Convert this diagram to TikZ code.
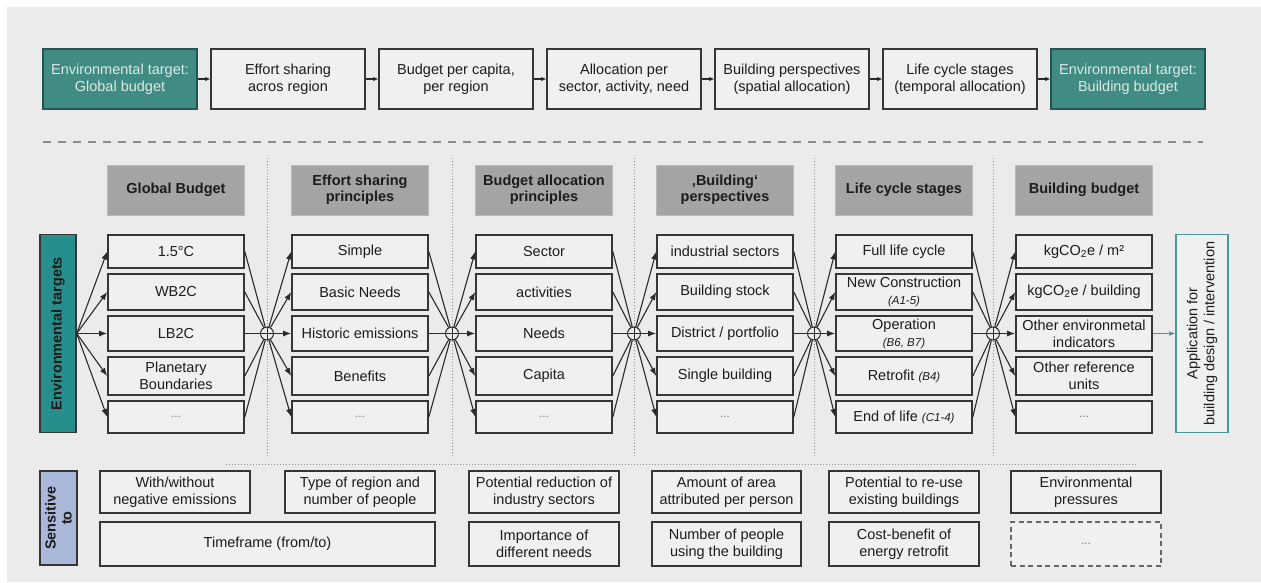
\documentclass[tikz,border=0pt]{standalone}
\usepackage{fontspec}
\setmainfont{Liberation Sans}
\usetikzlibrary{arrows.meta}

\definecolor{panelbg}{HTML}{EBEBEB}
\definecolor{cellfill}{HTML}{F0F0F0}
\definecolor{cellline}{HTML}{363636}
\definecolor{celltext}{HTML}{1C1C1C}
\definecolor{tealtop}{HTML}{408C83}
\definecolor{tealtopline}{HTML}{28554F}
\definecolor{tealtoptext}{HTML}{DCE9E7}
\definecolor{tealbar}{HTML}{278F8B}
\definecolor{tealline}{HTML}{4A9893}
\definecolor{hdrfill}{HTML}{A4A4A4}
\definecolor{hdrline}{HTML}{BABABA}
\definecolor{sensfill}{HTML}{AAB8DA}
\definecolor{fanline}{HTML}{2A2A2A}
\definecolor{sepgray}{HTML}{8C8C8C}
\definecolor{moregray}{HTML}{777777}

\newcommand\stagecode[1]{{\itshape\fontsize{11.5}{13}\selectfont #1}}
\newcommand\morecell{{\color{moregray}\fontsize{12}{13}\selectfont ...}}

\begin{document}
\begin{tikzpicture}[x=1pt,y=-1pt,
  every node/.style={font=\fontsize{14.5}{17}\selectfont, align=center, inner sep=0pt, text=celltext},
  topbox/.style={draw=cellline, line width=1.3pt, fill=cellfill, minimum width=154, minimum height=60},
  toptarget/.style={topbox, draw=tealtopline, fill=tealtop, text=tealtoptext},
  hdr/.style={draw=hdrline, line width=1pt, fill=hdrfill, minimum width=137, minimum height=50,
    font=\bfseries\fontsize{14.5}{16}\selectfont, text=celltext},
  cell/.style={draw=cellline, line width=1.6pt, fill=cellfill, minimum width=136},
  rA/.style={minimum height=33},
  rB/.style={minimum height=36},
  rC/.style={minimum height=35},
  rD/.style={minimum height=38},
  rE/.style={minimum height=32},
  senscell/.style={draw=cellline, line width=1.6pt, fill=cellfill, minimum width=150, minimum height=42},
  fan/.style={draw=fanline, line width=1.1pt},
  fanarrow/.style={fan, -{Latex[length=8pt,width=6pt]}},
  toparrow/.style={draw=black!85, line width=1.1pt, -{Latex[length=5pt,width=4.5pt]}},
  joint/.style={circle, draw=fanline, line width=1pt, fill=panelbg, minimum size=13,
    path picture={\draw[fanline, line width=0.8pt]
      (path picture bounding box.north) -- (path picture bounding box.south)
      (path picture bounding box.west) -- (path picture bounding box.east);}},
  sep/.style={draw=sepgray, line width=1pt, dotted}
]
\useasboundingbox (0,0) rectangle (1261,582);
\fill[white] (0,0) rectangle (1261,582);
\fill[panelbg] (7,7) rectangle (1261,582);

% process chain along the top
\node[toptarget] (t1) at (120,79) {Environmental target:\\Global budget};
\node[topbox]    (t2) at (288,79) {Effort sharing\\acros region};
\node[topbox]    (t3) at (456,79) {Budget per capita,\\per region};
\node[topbox]    (t4) at (624,79) {Allocation per\\sector, activity, need};
\node[topbox]    (t5) at (792,79) {Building perspectives\\(spatial allocation)};
\node[topbox]    (t6) at (960,79) {Life cycle stages\\(temporal allocation)};
\node[toptarget] (t7) at (1128,79) {Environmental target:\\Building budget};
\foreach \a/\b in {t1/t2,t2/t3,t3/t4,t4/t5,t5/t6,t6/t7}
  \draw[toparrow] (\a.east) -- (\b.west);

\draw[draw=sepgray, line width=1.4pt, dash pattern=on 8pt off 7pt] (43,142) -- (1203,142);

% column separators
\foreach \x in {267,452,634,814,993}
  \draw[sep] (\x,158) -- (\x,458);
\draw[sep] (226,464) -- (1136,464);

% column headers
\node[hdr] (h1) at (176,190) {Global Budget};
\node[hdr] (h2) at (360,190) {Effort sharing\\principles};
\node[hdr] (h3) at (544,190) {Budget allocation\\principles};
\node[hdr] (h4) at (725,190) {‚Building‘\\perspectives};
\node[hdr] (h5) at (904,190) {Life cycle stages};
\node[hdr] (h6) at (1084,190) {Building budget};

% side labels
\node[rotate=90, draw=cellline, line width=1.4pt, fill=tealbar, minimum width=198, minimum height=36,
      font=\bfseries\fontsize{14.5}{16}\selectfont] (side) at (58,333.5) {Environmental targets};
\node[rotate=90, draw=tealline, line width=1.4pt, fill=cellfill, minimum width=198, minimum height=52]
      (app) at (1202,333.5) {Application for\\building design / intervention};
\node[rotate=90, draw=cellline, line width=1.4pt, fill=sensfill, minimum width=94, minimum height=37,
      font=\bfseries\fontsize{14.5}{16}\selectfont] (sens) at (58.5,518) {Sensitive\\to};

% column 1: global budget
\node[cell,rA] (c1r1) at (176,251.5) {1.5°C};
\node[cell,rB] (c1r2) at (176,292) {WB2C};
\node[cell,rC] (c1r3) at (176,333.5) {LB2C};
\node[cell,rD] (c1r4) at (176,376) {Planetary\\Boundaries};
\node[cell,rE] (c1r5) at (176,417) {\morecell};
% column 2: effort sharing principles
\node[cell,rA] (c2r1) at (360,251.5) {Simple};
\node[cell,rB] (c2r2) at (360,292) {Basic Needs};
\node[cell,rC] (c2r3) at (360,333.5) {Historic emissions};
\node[cell,rD] (c2r4) at (360,376) {Benefits};
\node[cell,rE] (c2r5) at (360,417) {\morecell};
% column 3: budget allocation principles
\node[cell,rA] (c3r1) at (544,251.5) {Sector};
\node[cell,rB] (c3r2) at (544,292) {activities};
\node[cell,rC] (c3r3) at (544,333.5) {Needs};
\node[cell,rD] (c3r4) at (544,376) {Capita};
\node[cell,rE] (c3r5) at (544,417) {\morecell};
% column 4: building perspectives
\node[cell,rA] (c4r1) at (725,251.5) {industrial sectors};
\node[cell,rB] (c4r2) at (725,292) {Building stock};
\node[cell,rC] (c4r3) at (725,333.5) {District / portfolio};
\node[cell,rD] (c4r4) at (725,376) {Single building};
\node[cell,rE] (c4r5) at (725,417) {\morecell};
% column 5: life cycle stages
\node[cell,rA] (c5r1) at (904,251.5) {Full life cycle};
\node[cell,rB] (c5r2) at (904,292) {New Construction\\\stagecode{(A1-5)}};
\node[cell,rC] (c5r3) at (904,333.5) {Operation\\\stagecode{(B6, B7)}};
\node[cell,rD] (c5r4) at (904,376) {Retrofit \stagecode{(B4)}};
\node[cell,rE] (c5r5) at (904,417) {End of life \stagecode{(C1-4)}};
% column 6: building budget
\node[cell,rA] (c6r1) at (1084,251.5) {kgCO\textsubscript{2}e / m²};
\node[cell,rB] (c6r2) at (1084,292) {kgCO\textsubscript{2}e / building};
\node[cell,rC] (c6r3) at (1084,333.5) {Other environmetal\\indicators};
\node[cell,rD] (c6r4) at (1084,376) {Other reference\\units};
\node[cell,rE] (c6r5) at (1084,417) {\morecell};

% junctions between columns
\node[joint] (j1) at (267,333.5) {};
\node[joint] (j2) at (452,333.5) {};
\node[joint] (j3) at (634,333.5) {};
\node[joint] (j4) at (814,333.5) {};
\node[joint] (j5) at (993,333.5) {};

% fan-out from the targets bar
\foreach \r in {1,...,5}
  \draw[fanarrow] (side.south) -- (c1r\r.west);

% merge into each junction and fan out to the next column
\foreach \c/\n in {1/2,2/3,3/4,4/5,5/6}{
  \foreach \r in {1,...,5}{
    \draw[fan] (c\c r\r.east) -- (j\c);
    \draw[fanarrow] (j\c) -- (c\n r\r.west);
  }
}

\draw[draw=tealline, line width=1.2pt, -{Latex[length=6pt,width=5pt]}] (c6r3.east) -- (app);

% sensitivities
\node[senscell] (s1)  at (175,492)   {With/without\\negative emissions};
\node[senscell] (s2)  at (360,492)   {Type of region and\\number of people};
\node[senscell, minimum width=335, minimum height=44] (s3) at (267.5,544) {Timeframe (from/to)};
\node[senscell] (s4)  at (544,492)   {Potential reduction of\\industry sectors};
\node[senscell, minimum height=44] (s5) at (544,544) {Importance of\\different needs};
\node[senscell, minimum width=149] (s6) at (726.5,492) {Amount of area\\attributed per person};
\node[senscell, minimum width=149, minimum height=44] (s7) at (726.5,544) {Number of people\\using the building};
\node[senscell] (s8)  at (904,492)   {Potential to re-use\\existing buildings};
\node[senscell, minimum height=44] (s9) at (904,544) {Cost-benefit of\\energy retrofit};
\node[senscell] (s10) at (1086,492)  {Environmental\\pressures};
\node[senscell, minimum height=44, draw=black!60, line width=1.2pt, dash pattern=on 5pt off 3.5pt] (s11) at (1086,544) {\morecell};
\end{tikzpicture}
\end{document}
